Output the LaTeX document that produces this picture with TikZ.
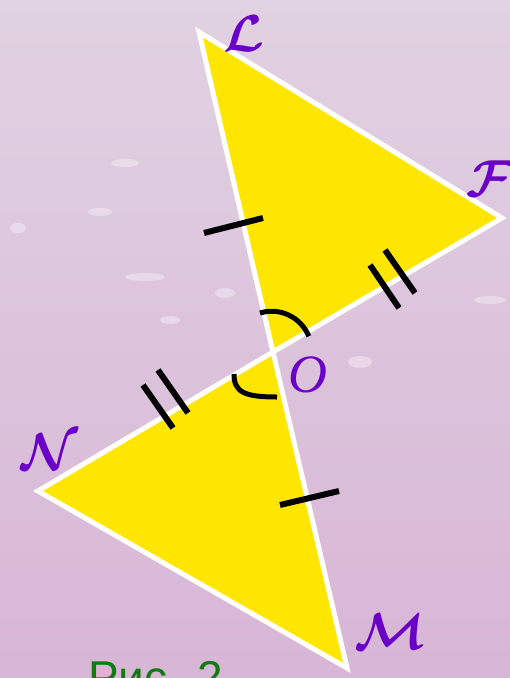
\documentclass[tikz,border=0pt]{standalone}
\usepackage{fontspec}
\usepackage{amsmath}
\usepackage{bm}
\newfontfamily\capfont{Liberation Sans}
\newfontfamily\ofont{Liberation Serif}
\definecolor{bgtop}{HTML}{E0D2E2}
\definecolor{bgbot}{HTML}{D8B6D6}
\definecolor{tri}{HTML}{FFE600}
\definecolor{lab}{HTML}{6A00C8}
\definecolor{capgreen}{HTML}{127A12}
\newcommand{\biglab}[1]{\scalebox{5.2}{$\bm{\mathcal{#1}}$}}
\tikzset{
  tribox/.style={fill=tri, draw=white, line width=5pt, line join=miter},
  tick/.style={draw=black, line width=6pt},
  anglearc/.style={draw=black, line width=5pt},
  vlabel/.style={text=lab, inner sep=0pt},
  sparkle/.style={fill=white, opacity=0.35}
}
\begin{document}
\begin{tikzpicture}[x=1pt,y=-1pt]
\useasboundingbox (0,0) rectangle (510,678);
\shade[top color=bgtop, bottom color=bgbot] (0,0) rectangle (510,678);
% faint sparkles
\fill[sparkle] (125,163) ellipse (14 and 4);
\fill[sparkle] (100,212) ellipse (12 and 4);
\fill[sparkle] (18,228) ellipse (8 and 5);
\fill[sparkle] (145,277) ellipse (20 and 4);
\fill[sparkle] (170,320) ellipse (10 and 4);
\fill[sparkle] (225,293) ellipse (10 and 5);
\fill[sparkle] (360,362) ellipse (12 and 6);
\fill[sparkle] (490,300) ellipse (16 and 4);
% vertices
\coordinate (L) at (199,32);
\coordinate (F) at (502,218);
\coordinate (N) at (38,491);
\coordinate (M) at (347,668);
\coordinate (O) at (273,352);
% triangles
\path[tribox] (L) -- (O) -- (F) -- cycle;
\path[tribox] (N) -- (O) -- (M) -- cycle;
% ticks
\coordinate (t1a) at (204,233); \coordinate (t1b) at (263,218);
\draw[tick] (t1a) -- (t1b);
\coordinate (t2a) at (370,265); \coordinate (t2b) at (399,308);
\coordinate (t3a) at (385,250); \coordinate (t3b) at (415,293);
\draw[tick] (t2a) -- (t2b);
\draw[tick] (t3a) -- (t3b);
\coordinate (t4a) at (143,385); \coordinate (t4b) at (173,428);
\coordinate (t5a) at (158,370); \coordinate (t5b) at (188,413);
\draw[tick] (t4a) -- (t4b);
\draw[tick] (t5a) -- (t5b);
\coordinate (t6a) at (280,505); \coordinate (t6b) at (339,491);
\draw[tick] (t6a) -- (t6b);
% angle marks
\coordinate (a1) at (260,313);
\draw[anglearc] (a1) arc[start angle=-107, end angle=-22, radius=40];
\coordinate (a2) at (234,374);
\coordinate (a3) at (277,397);
\draw[anglearc] (a2) .. controls (234,392) and (244,397) .. (a3);
% labels
\node[vlabel] (lL) at (244,34) {\biglab{L}};
\node[vlabel] (lF) at (490,179) {\biglab{F}};
\node[vlabel] (lN) at (50,452) {\biglab{N}};
\node[vlabel] (lM) at (390,632) {\biglab{M}};
\node[vlabel] (lO) at (308,375) {\ofont\itshape\fontsize{54}{54}\selectfont O};
\node[anchor=base west, inner sep=0pt, text=capgreen] (cap) at (88,693) {\capfont\fontsize{46}{46}\selectfont Рис. 2};
\end{tikzpicture}
\end{document}
